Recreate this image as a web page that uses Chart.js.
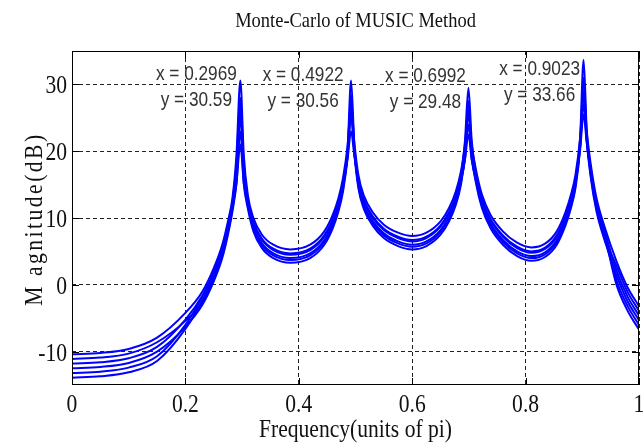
<!DOCTYPE html>
<html>
<head>
<meta charset="utf-8">
<script src="https://cdn.jsdelivr.net/npm/chart.js@4/dist/chart.umd.min.js"></script>
<style>
  html, body { margin: 0; padding: 0; background: #fff; }
  canvas { display: block; }
</style>
</head>
<body>
<canvas id="music-chart" width="643" height="444"></canvas>
<script>
// frequency grid (units of pi), denser around the four spectral peaks
const freq = [
  0, 0.05, 0.1, 0.15, 0.2, 0.23, 0.25, 0.265, 0.275, 0.283,
  0.29, 0.2969, 0.303, 0.31, 0.32, 0.335, 0.355, 0.385, 0.42, 0.445,
  0.46, 0.47, 0.478, 0.486, 0.4922, 0.498, 0.505, 0.515, 0.53, 0.55,
  0.575, 0.6, 0.625, 0.65, 0.665, 0.677, 0.686, 0.693, 0.6992, 0.705,
  0.713, 0.723, 0.738, 0.76, 0.785, 0.81, 0.835, 0.855, 0.87, 0.88,
  0.888, 0.896, 0.9023, 0.908, 0.915, 0.925, 0.94, 0.96, 0.98, 1
];

// pseudo-spectrum in dB, one array per Monte-Carlo run
const run1 = [
  -10.4, -10.2, -9.6, -7.9, -4.2, -1.0, 2.5, 6.0, 9.5, 13.0,
  19.4, 30.6, 19.4, 13.5, 10.0, 7.5, 6.0, 5.3, 6.0, 8.0,
  10.5, 13.0, 16.0, 20.8, 27.0, 21.3, 16.5, 13.3, 10.9, 9.0,
  7.8, 7.3, 7.8, 9.5, 11.5, 14.0, 17.0, 21.0, 26.0, 21.0,
  17.0, 13.5, 10.5, 8.0, 6.3, 5.6, 6.2, 8.0, 10.8, 13.5,
  16.5, 21.9, 29.0, 22.9, 18.0, 13.0, 8.5, 3.6, -0.4, -3.2
];
const run2 = [
  -11.1, -10.9, -10.3, -8.6, -5.4, -2.6, 0.9, 4.4, 7.9, 11.4,
  16.1, 25.0, 16.1, 11.9, 8.4, 5.9, 4.4, 3.7, 4.4, 6.4,
  8.9, 11.4, 14.4, 20.3, 30.6, 20.8, 14.9, 11.7, 9.3, 7.4,
  6.2, 5.7, 6.2, 7.9, 9.9, 12.4, 15.4, 18.8, 24.0, 18.8,
  15.4, 11.9, 8.9, 6.4, 4.7, 4.0, 4.6, 6.4, 9.2, 11.9,
  14.9, 21.7, 33.7, 22.7, 16.4, 11.4, 6.9, 2.9, -1.1, -3.9
];
const run3 = [
  -11.8, -11.6, -11.0, -9.3, -5.2, -1.6, 1.9, 5.4, 8.9, 12.4,
  18.0, 28.0, 18.0, 12.9, 9.4, 6.9, 5.4, 4.7, 5.4, 7.4,
  9.9, 12.4, 15.4, 19.6, 25.0, 20.1, 15.9, 12.7, 10.3, 8.4,
  7.2, 6.7, 7.2, 8.9, 10.9, 13.4, 16.4, 21.5, 29.5, 21.5,
  16.4, 12.9, 9.9, 7.4, 5.7, 5.0, 5.6, 7.4, 10.2, 12.9,
  15.9, 20.7, 27.0, 21.7, 17.4, 12.4, 7.9, 2.2, -1.8, -4.6
];
const run4 = [
  -12.5, -12.3, -11.7, -10.0, -6.3, -3.0, 0.5, 4.0, 7.5, 11.0,
  15.1, 23.0, 15.1, 11.5, 8.0, 5.5, 4.0, 3.3, 4.0, 6.0,
  8.5, 11.0, 14.0, 19.3, 28.5, 19.8, 14.5, 11.3, 8.9, 7.0,
  5.8, 5.3, 5.8, 7.5, 9.5, 12.0, 15.0, 19.5, 27.5, 19.5,
  15.0, 11.5, 8.5, 6.0, 4.3, 3.6, 4.2, 6.0, 8.8, 11.5,
  14.5, 20.5, 31.0, 21.5, 16.0, 11.0, 6.5, 1.5, -2.5, -5.3
];
const run5 = [
  -13.2, -13.0, -12.4, -10.7, -6.0, -1.8, 1.7, 5.2, 8.7, 12.2,
  17.4, 26.5, 17.4, 12.7, 9.2, 6.7, 5.2, 4.5, 5.2, 7.2,
  9.7, 12.2, 15.2, 18.8, 23.0, 19.3, 15.7, 12.5, 10.1, 8.2,
  7.0, 6.5, 7.0, 8.7, 10.7, 13.2, 16.2, 20.1, 25.5, 20.1,
  16.2, 12.7, 9.7, 7.2, 5.5, 4.8, 5.4, 7.2, 10.0, 12.7,
  15.7, 20.1, 25.5, 21.1, 17.2, 12.2, 7.7, 0.8, -3.2, -6.0
];
const run6 = [
  -13.9, -13.7, -13.1, -11.4, -6.6, -2.3, 1.2, 4.7, 8.2, 11.7,
  15.2, 21.0, 15.2, 12.2, 8.7, 6.2, 4.7, 4.0, 4.7, 6.7,
  9.2, 11.7, 14.7, 19.2, 26.0, 19.7, 15.2, 12.0, 9.6, 7.7,
  6.5, 6.0, 6.5, 8.2, 10.2, 12.7, 15.7, 18.7, 22.5, 18.7,
  15.7, 12.2, 9.2, 6.7, 5.0, 4.3, 4.9, 6.7, 9.5, 12.2,
  15.2, 20.5, 28.5, 21.5, 16.7, 11.7, 7.2, 0.1, -3.9, -6.7
];
const runs = [run1, run2, run3, run4, run5, run6];

// data tips
const peakFreq = [0.2969, 0.4922, 0.6992, 0.9023];
const peakMag = [30.59, 30.56, 29.48, 33.66];

const xTicks = [0, 0.2, 0.4, 0.6, 0.8, 1];
const xTickLabels = ['0', '0.2', '0.4', '0.6', '0.8', '1'];
const yTicks = [-10, 0, 10, 20, 30];
const yTickLabels = ['-10', '0', '10', '20', '30'];

const titleText = 'Monte-Carlo of MUSIC Method';
const xTitle = 'Frequency(units of pi)';
const yTitle = 'M agnitude(dB)';

// pixel offsets of each tip's text block from its peak: [dx of centre, dy of first baseline]
const tipOffsets = [[-44, 0], [-48, 0], [-43, -6], [-44, 15]];

const SERIF = '"Liberation Serif", "Times New Roman", serif';
const SANS = '"Liberation Sans", Arial, sans-serif';

function squeezedText(ctx, text, x, y, font, sx, align) {
  ctx.save();
  ctx.translate(x, y);
  ctx.scale(sx, 1);
  ctx.font = font;
  ctx.textAlign = align;
  ctx.textBaseline = 'alphabetic';
  ctx.fillText(text, 0, 0);
  ctx.restore();
}

const matlabAxes = {
  id: 'matlabAxes',
  afterDraw(chart) {
    const { ctx, chartArea: a } = chart;
    const xs = chart.scales.x;
    const ys = chart.scales.y;
    ctx.save();

    // box and inward ticks
    ctx.strokeStyle = '#000';
    ctx.lineWidth = 1;
    ctx.setLineDash([]);
    ctx.strokeRect(a.left + 0.5, a.top + 0.5, a.right - a.left - 1, a.bottom - a.top - 1);
    ctx.beginPath();
    xTicks.forEach(v => {
      const px = Math.round(xs.getPixelForValue(v)) + 0.5;
      ctx.moveTo(px, a.bottom); ctx.lineTo(px, a.bottom - 7);
      ctx.moveTo(px, a.top); ctx.lineTo(px, a.top + 7);
    });
    yTicks.forEach(v => {
      const py = Math.round(ys.getPixelForValue(v)) + 0.5;
      ctx.moveTo(a.left, py); ctx.lineTo(a.left + 7, py);
      ctx.moveTo(a.right, py); ctx.lineTo(a.right - 7, py);
    });
    ctx.stroke();

    ctx.fillStyle = '#111';
    // tick labels
    xTicks.forEach((v, i) => {
      squeezedText(ctx, xTickLabels[i], xs.getPixelForValue(v), a.bottom + 27, '26px ' + SERIF, 0.83, 'center');
    });
    yTicks.forEach((v, i) => {
      squeezedText(ctx, yTickLabels[i], a.left - 5, ys.getPixelForValue(v) + 9, '26px ' + SERIF, 0.83, 'right');
    });

    // titles
    squeezedText(ctx, titleText, (a.left + a.right) / 2, 27, '21px ' + SERIF, 0.88, 'center');
    squeezedText(ctx, xTitle, (a.left + a.right) / 2, 437, '26px ' + SERIF, 0.83, 'center');
    ctx.save();
    ctx.translate(42, 219);
    ctx.rotate(-Math.PI / 2);
    ctx.scale(0.83, 1);
    ctx.font = '26px ' + SERIF;
    ctx.letterSpacing = '3px';
    ctx.textAlign = 'center';
    ctx.fillText(yTitle, 0, 0);
    ctx.restore();

    // data tips
    ctx.fillStyle = '#333';
    peakFreq.forEach((f, i) => {
      const cx = xs.getPixelForValue(f) + tipOffsets[i][0];
      const by = ys.getPixelForValue(peakMag[i]) + tipOffsets[i][1];
      squeezedText(ctx, 'x = ' + f.toFixed(4), cx, by, '21px ' + SANS, 0.82, 'center');
      squeezedText(ctx, 'y = ' + peakMag[i].toFixed(2), cx, by + 26, '21px ' + SANS, 0.82, 'center');
    });
    ctx.restore();
  }
};

new Chart(document.getElementById('music-chart'), {
  type: 'line',
  data: {
    datasets: runs.map(run => ({
      data: run.map((y, i) => ({ x: freq[i], y })),
      borderColor: '#0000ff',
      borderWidth: 2,
      pointRadius: 0,
      cubicInterpolationMode: 'monotone',
      fill: false
    }))
  },
  options: {
    responsive: false,
    animation: false,
    devicePixelRatio: 1,
    layout: { padding: { left: 72, right: 4, top: 51, bottom: 59 } },
    plugins: {
      legend: { display: false },
      tooltip: { enabled: false },
      title: { display: false }
    },
    scales: {
      x: {
        type: 'linear',
        min: 0,
        max: 1,
        afterBuildTicks: scale => { scale.ticks = xTicks.map(value => ({ value })); },
        ticks: { display: false },
        grid: { color: '#222', lineWidth: 1, drawTicks: false },
        border: { display: false, dash: [4, 3] }
      },
      y: {
        min: -15,
        max: 35,
        afterBuildTicks: scale => { scale.ticks = yTicks.map(value => ({ value })); },
        ticks: { display: false },
        grid: { color: '#222', lineWidth: 1, drawTicks: false },
        border: { display: false, dash: [4, 3] }
      }
    }
  },
  plugins: [matlabAxes]
});
</script>
</body>
</html>
